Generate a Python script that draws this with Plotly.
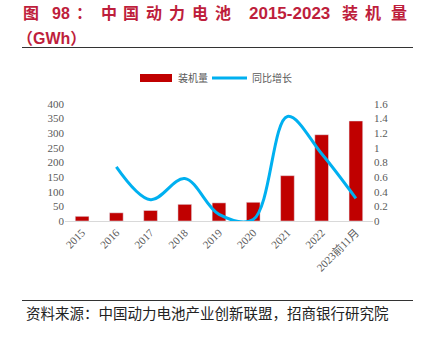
import plotly.graph_objects as go

years = ["2015", "2016", "2017", "2018", "2019", "2020", "2021", "2022", "2023前11月"]
installed = [16, 28, 36, 57, 62, 64, 155, 295, 342]
growth_years = ["2016", "2017", "2018", "2019", "2020", "2021", "2022", "2023前11月"]
growth = [0.74, 0.29, 0.58, 0.09, 0.02, 1.43, 0.92, 0.31]

W, H = 424, 337
L, R, T, B = 65, 51, 104, 116
PW, PH = W - L - R, H - T - B

def px(x):
    return (x - L) / PW

def py(y):
    return (H - B - y) / PH

fig = go.Figure()
fig.add_trace(go.Bar(x=years, y=installed, name="装机量", marker_color="#C00000",
                     width=0.4, yaxis="y"))
fig.add_trace(go.Scatter(x=growth_years, y=growth, name="同比增长", mode="lines",
                         line=dict(color="#00B0F0", width=3, shape="spline", smoothing=1.0),
                         yaxis="y2"))

tick_font = dict(family="Liberation Serif, Noto Sans CJK SC", size=11, color="#595959")

fig.update_layout(
    width=W, height=H,
    margin=dict(l=L, r=R, t=T, b=B),
    paper_bgcolor="white", plot_bgcolor="white",
    showlegend=False,
    xaxis=dict(type="category", showline=True, linecolor="#D9D9D9", linewidth=1,
               ticks="", tickangle=-45, tickfont=tick_font, showgrid=False),
    yaxis=dict(range=[0, 400], dtick=50, showgrid=False, zeroline=False,
               tickfont=tick_font, showline=False, ticks=""),
    yaxis2=dict(range=[0, 1.6], dtick=0.2, overlaying="y", side="right",
                showgrid=False, zeroline=False, tickfont=tick_font, ticks="",
                showline=False),
)

title_color = "#BE1E3C"
title_font = dict(family="Liberation Sans, Noto Sans CJK SC", size=16, color=title_color)
pieces = [("图", 31), ("98", 61), ("：", 84), ("中", 109), ("国", 131), ("动", 154),
          ("力", 177), ("电", 200), ("池", 223), ("2015-2023", 289), ("装", 350),
          ("机", 373), ("量", 399)]
ann = []
for txt, cx in pieces:
    ann.append(dict(text="<b>" + txt + "</b>", x=px(cx), y=py(13), xref="paper", yref="paper",
                    xanchor="center", yanchor="middle", showarrow=False,
                    font=title_font if txt != "2015-2023" else dict(title_font, size=17)))
ann.append(dict(text="<b>（GWh）</b>", x=px(15), y=py(38), xref="paper", yref="paper",
                xanchor="left", yanchor="middle", showarrow=False, font=title_font))

legend_font = dict(family="Noto Sans CJK SC", size=10, color="#595959")
ann.append(dict(text="装机量", x=px(176), y=py(78), xref="paper", yref="paper",
                xanchor="left", yanchor="middle", showarrow=False, font=legend_font))
ann.append(dict(text="同比增长", x=px(250), y=py(78), xref="paper", yref="paper",
                xanchor="left", yanchor="middle", showarrow=False, font=legend_font))

ann.append(dict(text="资料来源：中国动力电池产业创新联盟，招商银行研究院", x=px(24), y=py(312),
                xref="paper", yref="paper", xanchor="left", yanchor="middle",
                showarrow=False, font=dict(family="Noto Sans CJK SC", size=14.5, color="#222222")))

shapes = [
    dict(type="line", xref="paper", yref="paper", x0=px(22), x1=px(413), y0=py(47.5), y1=py(47.5),
         line=dict(color="#333333", width=1.2)),
    dict(type="line", xref="paper", yref="paper", x0=px(22), x1=px(413), y0=py(300.5), y1=py(300.5),
         line=dict(color="#333333", width=1.2)),
    dict(type="rect", xref="paper", yref="paper", x0=px(140), x1=px(172), y0=py(82), y1=py(74),
         fillcolor="#C00000", line=dict(width=0)),
    dict(type="line", xref="paper", yref="paper", x0=px(212), x1=px(247), y0=py(78), y1=py(78),
         line=dict(color="#00B0F0", width=3)),
]
fig.update_layout(annotations=ann, shapes=shapes)

fig.write_html("out.html")
